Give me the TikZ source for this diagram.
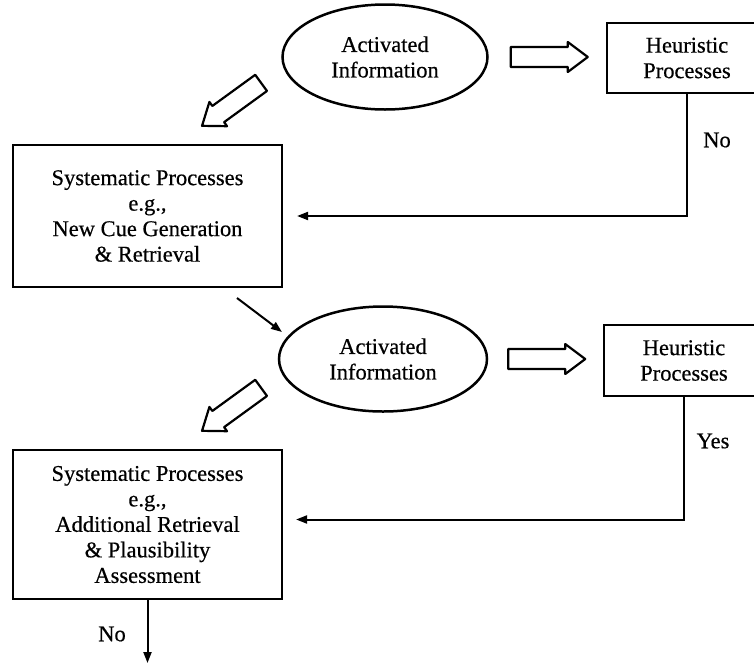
\documentclass[tikz,border=0pt]{standalone}
\usepackage{fontspec}
\setmainfont{Liberation Serif}[FakeBold=0.5]
\usetikzlibrary{arrows.meta,shapes.geometric,calc}
\newcommand{\myblockarrow}[3]{%
  \draw[line width=2.2pt, line join=round, shift={#1}, rotate=#2]
    (0,-10) -- ({#3-20},-10) -- ({#3-20},-15) -- (#3,0) -- ({#3-20},15) -- ({#3-20},10) -- (0,10) -- cycle;}
\begin{document}
\begin{tikzpicture}[x=1pt,y=-1pt,
  every node/.style={font=\fontsize{22.5}{25.5}\selectfont, align=center, inner sep=0pt},
  boxnode/.style={draw, line width=2.2pt, rectangle},
  ellnode/.style={draw, line width=2.5pt, ellipse},
  conn/.style={line width=2pt, -{Triangle[length=11pt,width=8pt]}}
]
\useasboundingbox (0,0) rectangle (754,670);
\clip (0,0) rectangle (754,670);

% first row
\node[ellnode, minimum width=205pt, minimum height=105pt] (act1) at (385,57) {Activated\\Information};
\node[boxnode, minimum width=160pt, minimum height=70pt] (heur1) at (687,58) {Heuristic\\Processes};
\node[boxnode, minimum width=269pt, minimum height=142pt] (sys1) at (147.5,216)
  {Systematic Processes\\e.g.,\\New Cue Generation\\\& Retrieval};

% second row
\node[ellnode, minimum width=208pt, minimum height=105pt] (act2) at (383,359) {Activated\\Information};
\node[boxnode, minimum width=160pt, minimum height=71pt] (heur2) at (684,360.5) {Heuristic\\Processes};
\node[boxnode, minimum width=269pt, minimum height=149pt] (sys2) at (147.5,524.5)
  {Systematic Processes\\e.g.,\\Additional Retrieval\\\& Plausibility\\Assessment};

% block arrows
\myblockarrow{($(act1.east)+(22,0)$)}{0}{77}
\myblockarrow{($(act2.east)+(20,0)$)}{0}{77}
\myblockarrow{($(sys1.north east)+(-22,-61)$)}{216}{73}
\myblockarrow{($(sys2.north east)+(-22,-61)$)}{216}{73}

% connectors
\draw[conn, shorten >=14pt] (heur1.south) |- (sys1.east);
\draw[conn, shorten >=13pt] (heur2.south) |- ($(sys2.east)+(0,-5)$);

\coordinate (d1) at (237,298);
\coordinate (d2) at (282,332);
\draw[conn] (d1) -- (d2);

\coordinate (out) at (147.5,663);
\draw[conn] (sys2.south) -- (out);

% labels
\node (no1) at (717,140) {No};
\node (yes1) at (713,441) {Yes};
\node (no2) at (112,634) {No};
\end{tikzpicture}
\end{document}
